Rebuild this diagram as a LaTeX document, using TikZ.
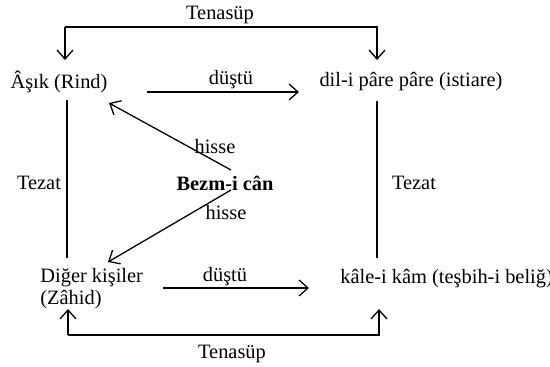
\documentclass[tikz,border=0pt]{standalone}
\usepackage{fontspec}
\setmainfont{Liberation Serif}
\usetikzlibrary{arrows.meta}
\begin{document}
\begin{tikzpicture}[x=0.5pt,y=-0.5pt,
  lbl/.style={inner sep=0pt,font=\fontsize{10.2}{12}\selectfont},
  ln/.style={line width=0.65pt},
  arr/.style={ln,-{Straight Barb[length=4.5pt,width=8pt,line width=0.65pt]}}]
\useasboundingbox (0,0) rectangle (550,367);
% nodes
\node[lbl] (asik) at (59,82) {Âşık (Rind)};
\node[lbl] (dil) at (411,82) {dil-i pâre pâre (istiare)};
\node[lbl,font=\fontsize{10.2}{12}\selectfont\bfseries] (bezm) at (225,183) {Bezm-i cân};
\node[lbl,anchor=west] (diger) at (40,278) {Diğer kişiler};
\node[lbl,anchor=west] (zahid) at (40,300) {(Zâhid)};
\node[lbl,anchor=west] (kale) at (340,279) {kâle-i kâm (teşbih-i beliğ)};
% labels
\node[lbl] (ten1) at (220,15) {Tenasüp};
\node[lbl] (ten2) at (232,354) {Tenasüp};
\node[lbl] (dus1) at (231,80) {düştü};
\node[lbl] (dus2) at (225,277) {düştü};
\node[lbl] (tez1) at (39,183) {Tezat};
\node[lbl] (tez2) at (414,183) {Tezat};
\node[lbl] (his1) at (215,147) {hisse};
\node[lbl] (his2) at (226,213) {hisse};
% coordinates
\coordinate (tl) at (65,27);
\coordinate (tr) at (377,27);
\coordinate (tla) at (65,60);
\coordinate (tra) at (377,60);
\coordinate (bl) at (68,335);
\coordinate (br) at (379,335);
\coordinate (bla) at (68,309);
\coordinate (bra) at (379,309);
\coordinate (d1s) at (147,92);
\coordinate (d1e) at (299,92);
\coordinate (d2s) at (163,288);
\coordinate (d2e) at (309,288);
\coordinate (lt) at (67,100);
\coordinate (lb) at (67,258);
\coordinate (rt) at (377,101);
\coordinate (rb) at (377,258);
\coordinate (h1s) at (231,170);
\coordinate (h1e) at (109,103);
\coordinate (h2s) at (231,190);
\coordinate (h2e) at (108,262);
% connectors
\draw[arr] (tl) -- (tla);
\draw[arr] (tl) -- (tr) -- (tra);
\draw[arr] (bl) -- (bla);
\draw[arr] (bl) -- (br) -- (bra);
\draw[arr] (d1s) -- (d1e);
\draw[arr] (d2s) -- (d2e);
\draw[ln] (lt) -- (lb);
\draw[ln] (rt) -- (rb);
\draw[arr] (h1s) -- (h1e);
\draw[arr] (h2s) -- (h2e);
\end{tikzpicture}
\end{document}
